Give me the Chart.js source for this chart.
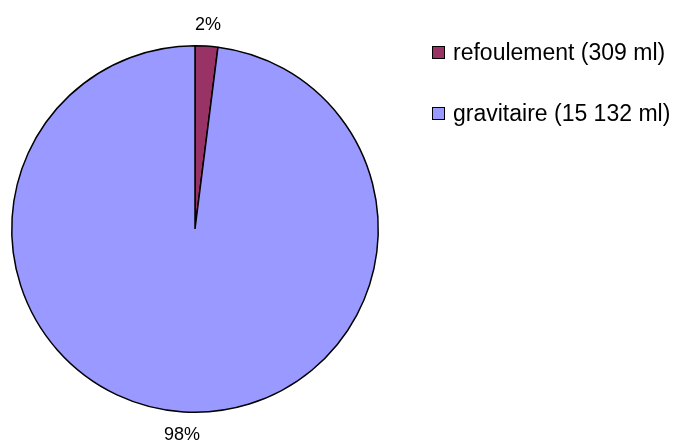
<!DOCTYPE html>
<html>
<head>
<meta charset="utf-8">
<script src="https://cdn.jsdelivr.net/npm/chart.js@4/dist/chart.umd.min.js"></script>
<style>
  html, body { margin: 0; padding: 0; background: #fff; }
  #wrap { position: relative; width: 677px; height: 444px; }
  #wrap canvas { position: absolute; left: 0; top: 0; }
  #legend { position: absolute; left: 432px; top: 38px; font-family: "Liberation Sans", Arial, sans-serif; font-size: 23px; color: #000; }
  #legend .item { height: 28px; line-height: 28px; margin-bottom: 33px; white-space: nowrap; }
  #legend .box { display: inline-block; width: 11px; height: 11px; border: 1px solid #000; margin-right: 8px; vertical-align: 1px; }
</style>
</head>
<body>
<div id="wrap">
  <canvas id="pie" width="677" height="444"></canvas>
  <div id="legend"></div>
</div>
<script>
'use strict';

// reseau : longueurs en metres lineaires
var categories = ['refoulement', 'gravitaire'];
var longueurs = [309, 15132];
var couleurs = ['#993366', '#9999FF'];

var total = longueurs.reduce(function (a, b) { return a + b; }, 0);

// legende a droite
var legend = document.getElementById('legend');
categories.forEach(function (c, i) {
  var item = document.createElement('div');
  item.className = 'item';
  var box = document.createElement('span');
  box.className = 'box';
  box.style.background = couleurs[i];
  item.appendChild(box);
  item.appendChild(document.createTextNode(c + ' (' + longueurs[i].toLocaleString('fr-FR').replace(/\s/g, ' ') + ' ml)'));
  legend.appendChild(item);
});

// pourcentages places a l'exterieur du camembert
var pctLabels = {
  id: 'pctLabels',
  afterDatasetsDraw: function (chart) {
    var ctx = chart.ctx;
    var meta = chart.getDatasetMeta(0);
    ctx.save();
    ctx.font = '18px "Liberation Sans", Arial, sans-serif';
    ctx.fillStyle = '#000';
    ctx.textAlign = 'center';
    ctx.textBaseline = 'middle';
    meta.data.forEach(function (arc, i) {
      var mid = (arc.startAngle + arc.endAngle) / 2;
      var r = arc.outerRadius + 22;
      var x = arc.x + Math.cos(mid) * r;
      var y = arc.y + Math.sin(mid) * r + 1;
      var pct = Math.round(longueurs[i] / total * 100) + '%';
      ctx.fillText(pct, x, y);
    });
    ctx.restore();
  }
};

var ctx = document.getElementById('pie').getContext('2d');
var chart = new Chart(ctx, {
  type: 'pie',
  data: {
    labels: categories,
    datasets: [{
      data: longueurs,
      backgroundColor: couleurs,
      borderColor: '#000',
      borderWidth: 1.5
    }]
  },
  options: {
    responsive: false,
    animation: false,
    layout: { padding: { left: 11, top: 45, right: 298, bottom: 31 } },
    plugins: {
      legend: { display: false },
      tooltip: { enabled: false }
    }
  },
  plugins: [pctLabels]
});
</script>
</body>
</html>
